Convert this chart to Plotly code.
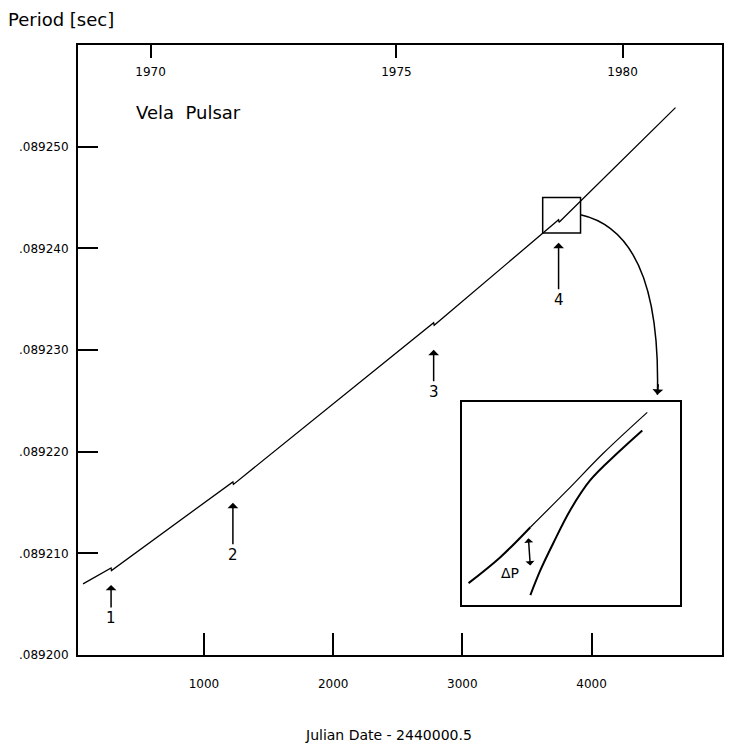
"""
vela_glitches.py
----------------
Period of the Vela pulsar vs. Julian date, with four glitches marked
and an inset magnifying glitch 4.
"""

import plotly.graph_objects as go

# ── Data ────────────────────────────────────────────────────────────────────
jd = [64, 281, 284, 1224, 1228, 2778, 2782, 3745, 3749, 4650]
period = [0.08920699, 0.08920856, 0.08920831, 0.08921703, 0.08921678,
          0.08923268, 0.08923243, 0.08924281, 0.08924256, 0.08925384]

glitch_jd = [281, 1224, 2778, 3745]
glitch_period = [0.08920856, 0.08921703, 0.08923268, 0.08924281]
glitch_labels = ["1", "2", "3", "4"]

x_tick_vals = [1000, 2000, 3000, 4000]
x_tick_text = ["1000", "2000", "3000", "4000"]
year_tick_vals = [587, 2490, 4240]
year_tick_text = ["1970", "1975", "1980"]
y_tick_vals = [0.08920, 0.08921, 0.08922, 0.08923, 0.08924, 0.08925]
y_tick_text = [".089200", ".089210", ".089220", ".089230", ".089240", ".089250"]

# zoom window around glitch 4
zoom_jd = [3622, 3915]
zoom_period = [0.0892415, 0.0892450]

# inset (arbitrary units, magnified view of glitch 4)
inset_pre_t = [2.8, 17.4, 31.2]
inset_pre_p = [10.8, 23.6, 38.4]
inset_ext_t = [31.2, 48.2, 64.7, 84.9]
inset_ext_p = [38.4, 56.7, 74.9, 95.1]
inset_post_t = [31.2, 35.8, 41.7, 49.5, 58.7, 71.1, 82.6]
inset_post_p = [4.9, 17.2, 30.5, 46.8, 61.6, 74.9, 86.2]

FONT = "DejaVu Sans"
X_RANGE = [25, 5010]
Y_RANGE = [0.0892, 0.08926]

fig = go.Figure()

fig.add_trace(go.Scatter(x=jd, y=period, mode="lines",
                         line=dict(color="black", width=1.3),
                         showlegend=False, hoverinfo="skip"))

# invisible trace so the top (year) axis is drawn
fig.add_trace(go.Scatter(x=[X_RANGE[0]], y=[Y_RANGE[0]], xaxis="x2", mode="markers",
                         marker=dict(opacity=0), showlegend=False, hoverinfo="skip"))

# inset curves
fig.add_trace(go.Scatter(x=inset_pre_t, y=inset_pre_p, xaxis="x3", yaxis="y3", mode="lines",
                         line=dict(color="black", width=2, shape="spline"), showlegend=False))
fig.add_trace(go.Scatter(x=inset_ext_t, y=inset_ext_p, xaxis="x3", yaxis="y3", mode="lines",
                         line=dict(color="black", width=1.2, shape="spline"), showlegend=False))
fig.add_trace(go.Scatter(x=inset_post_t, y=inset_post_p, xaxis="x3", yaxis="y3", mode="lines",
                         line=dict(color="black", width=2, shape="spline"), showlegend=False))

# ── Glitch arrows ───────────────────────────────────────────────────────────
head_gap = [17, 21, 27, 23]
arrow_len = [33, 52, 42, 57]
for gx, gy, lab, gap, ln in zip(glitch_jd, glitch_period, glitch_labels, head_gap, arrow_len):
    fig.add_annotation(x=gx, y=gy, yshift=-gap, text=lab, showarrow=True,
                       ax=0, ay=ln, arrowhead=1, arrowsize=1.2, arrowwidth=1.5,
                       arrowcolor="black", font=dict(family=FONT, size=15, color="black"))

# zoom box + curved arrow to the inset
fig.add_shape(type="rect", x0=zoom_jd[0], x1=zoom_jd[1], y0=zoom_period[0], y1=zoom_period[1],
              line=dict(color="black", width=1.5))
fig.add_shape(type="path",
              path="M 3915,0.0892433 C 4263,0.0892423 4533,0.0892379 4510,0.0892256",
              line=dict(color="black", width=1.5))
fig.add_annotation(x=4510, y=0.0892256, ax=1, ay=-12, text="", showarrow=True,
                   arrowhead=1, arrowsize=1.2, arrowwidth=1.5, arrowcolor="black")

# inset annotations
fig.add_annotation(x=22, y=15.8, xref="x3", yref="y3", text="ΔP", showarrow=False,
                   font=dict(family=FONT, size=14, color="black"))
fig.add_annotation(x=30.3, y=33, ax=31.2, ay=18.7, xref="x3", yref="y3",
                   axref="x3", ayref="y3", text="", showarrow=True,
                   arrowhead=1, arrowside="end+start", arrowsize=1, arrowwidth=1.5,
                   arrowcolor="black")

# ── Text ───────────────────────────────────────────────────────────────────
fig.add_annotation(x=-0.1116, y=1.0425, xref="paper", yref="paper", text="Period [sec]",
                   showarrow=False, xanchor="left", yanchor="middle",
                   font=dict(family=FONT, size=18, color="black"))
fig.add_annotation(x=0.0868, y=0.890, xref="paper", yref="paper", text="Vela  Pulsar",
                   showarrow=False, xanchor="left", yanchor="middle",
                   font=dict(family=FONT, size=18, color="black"))
fig.add_annotation(x=0.482, y=-0.131, xref="paper", yref="paper", text="Julian Date - 2440000.5",
                   showarrow=False, xanchor="center", yanchor="middle",
                   font=dict(family=FONT, size=14, color="black"))

# the page body adds ~8px around the figure, so margins are trimmed to match
tick_font = dict(family=FONT, size=12, color="black")
fig.update_layout(
    width=747, height=754, autosize=False,
    margin=dict(l=70, r=33, t=37, b=107),
    plot_bgcolor="white", paper_bgcolor="white",
    showlegend=False,
    xaxis=dict(range=X_RANGE, tickvals=x_tick_vals, ticktext=x_tick_text,
               ticks="inside", ticklen=22, tickwidth=2, tickcolor="black",
               showline=True, linecolor="black", linewidth=2, mirror=True,
               showgrid=False, zeroline=False, tickfont=tick_font,
               ticklabelstandoff=17),
    xaxis2=dict(range=X_RANGE, overlaying="x", side="top", anchor="y",
                tickvals=year_tick_vals, ticktext=year_tick_text,
                ticks="inside", ticklen=13, tickwidth=2, tickcolor="black",
                ticklabelposition="inside", ticklabelstandoff=9,
                showline=True, linecolor="black", linewidth=2,
                showgrid=False, zeroline=False, tickfont=tick_font),
    yaxis=dict(range=Y_RANGE, tickvals=y_tick_vals, ticktext=y_tick_text,
               ticks="inside", ticklen=20, tickwidth=2, tickcolor="black",
               showline=True, linecolor="black", linewidth=2, mirror=True,
               showgrid=False, zeroline=False, tickfont=tick_font,
               ticklabelstandoff=5),
    xaxis3=dict(domain=[0.597, 0.935], anchor="y3", range=[0, 100],
                showticklabels=False, ticks="", showgrid=False, zeroline=False,
                showline=True, linecolor="black", linewidth=1.5, mirror=True),
    yaxis3=dict(domain=[0.082, 0.414], anchor="x3", range=[0, 100],
                showticklabels=False, ticks="", showgrid=False, zeroline=False,
                showline=True, linecolor="black", linewidth=1.5, mirror=True),
)

fig.write_html("out.html")
